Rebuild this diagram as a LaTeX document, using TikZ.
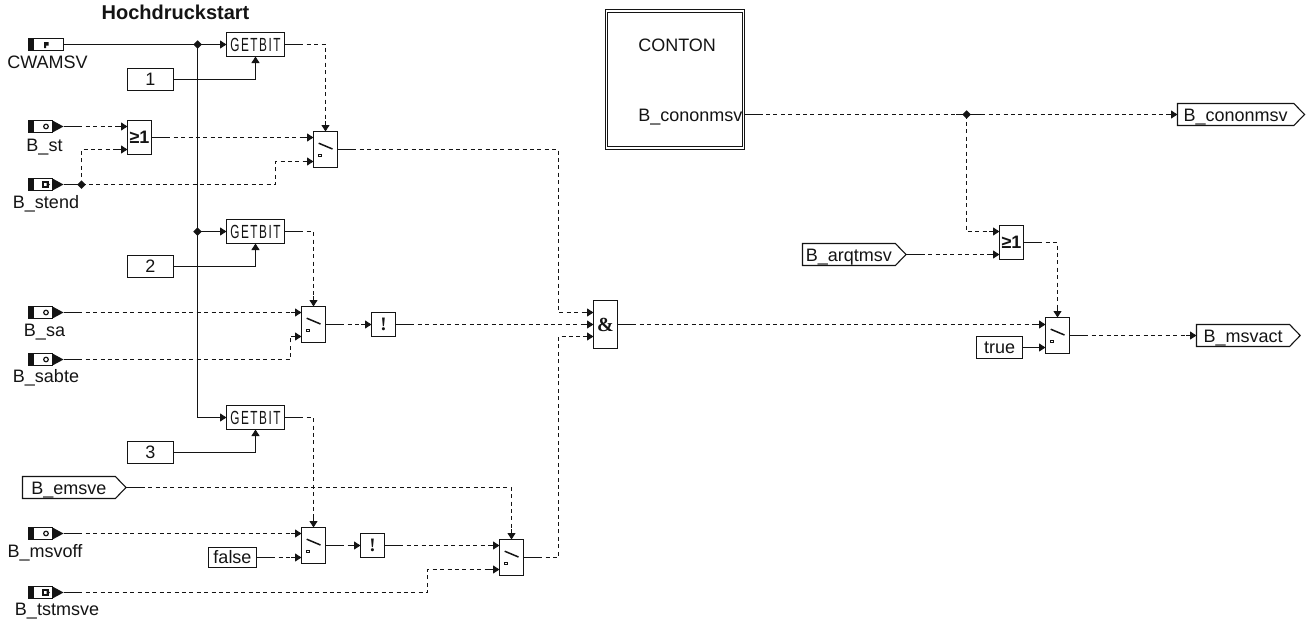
\documentclass[tikz,border=0pt]{standalone}
\usepackage{fontspec}
\setmainfont{Liberation Sans}
\newfontfamily\gbfont[FakeStretch=0.62,LetterSpace=8]{Liberation Sans}
\newfontfamily\serfont{Liberation Serif}
\usetikzlibrary{arrows.meta,shapes.geometric,shapes.symbols,decorations.markings}
\definecolor{ink}{RGB}{20,20,20}
\tikzset{
  every node/.style={inner sep=0pt,outer sep=0pt,text=ink,font=\fontsize{18}{20}\selectfont},
  wire/.style={line width=1.1pt,draw=ink},
  tipped/.style={-{Triangle[length=6.5pt,width=8pt]}},
  stubstart/.style={postaction={decorate,decoration={markings,mark=at position 0 with {\draw[solid,-,line width=1.1pt,draw=ink] (0,0)--(15,0);}}}},
  stubend/.style={postaction={decorate,decoration={markings,mark=at position 0.999 with {\draw[solid,-,line width=1.1pt,draw=ink] (-10,0)--(0,0);}}}},
  sigj/.style={wire,dash pattern=on 4pt off 3.4pt,stubend},
  sig/.style={sigj,stubstart},
  solidw/.style={wire},
  blockbox/.style={draw=ink,line width=1.1pt,fill=white},
  gbbox/.style={blockbox,minimum width=58,minimum height=24,font=\gbfont\fontsize{19}{20}\selectfont},
  constbox/.style={blockbox,minimum width=46,minimum height=22},
  swbox/.style={blockbox,minimum width=24,minimum height=36},
  orbox/.style={blockbox,minimum width=24,minimum height=34,font=\bfseries\fontsize{18}{20}\selectfont},
  notbox/.style={blockbox,minimum width=24,minimum height=24,font=\serfont\bfseries\fontsize{19}{21}\selectfont},
  andbox/.style={blockbox,minimum width=24,minimum height=48,font=\serfont\bfseries\fontsize{20}{22}\selectfont},
  junc/.style={diamond,fill=ink,minimum width=8.5,minimum height=8.5},
  sigbox/.style={signal,signal to=east,draw=ink,line width=1.1pt,fill=white,minimum height=22,signal pointer angle=92,anchor=west,text height=13pt,text depth=0pt},
  pinbox/.style={minimum width=35,minimum height=12},
  pinlabel/.style={anchor=center,text height=13pt,text depth=0pt}
}
\newcommand{\ringglyph}[2]{\draw[line width=1.2pt,draw=ink] (#1,#2) circle (2.3);}
\newcommand{\squareglyph}[2]{\draw[line width=1.2pt,draw=ink,fill=white] (#1-3,#2-2.5) rectangle (#1+2,#2+2.5);\fill[ink] (#1+0.5,#2-3)--(#1+4,#2)--(#1+0.5,#2+3)--cycle;}
\newcommand{\swglyph}[1]{%
  \draw[line width=1.5pt,draw=ink] (#1.center) ++(-6.8,-6.3) -- ++(13.8,5.8);
  \draw[line width=0.8pt,draw=ink] (#1.center) ++(-6.7,4.4) rectangle ++(2.4,2.4);
}
% name, center y, label, label x, label y, glyph command
\newcommand{\inpin}[6]{%
  \node[pinbox] (#1) at (46,#2) {};
  \draw[line width=1.1pt,draw=ink,fill=white] (28.5,#2-6)--(52.5,#2-6)--(52.5,#2+6)--(28.5,#2+6)--cycle;
  \fill[ink] (28.5,#2-6) rectangle (33.5,#2+6);
  \fill[ink] (52.5,#2-6)--(63.5,#2)--(52.5,#2+6)--cycle;
  #6{46}{#2}
  \node[pinlabel] (#1l) at (#4,#5) {#3};
}
\begin{document}
\begin{tikzpicture}[x=1pt,y=-1pt]
\useasboundingbox (0,0) rectangle (1307,621);
\fill[white] (0,0) rectangle (1307,621);
\node (title) at (175.5,12) {\bfseries\fontsize{20}{22}\selectfont Hochdruckstart};

% CWAMSV parameter pin
\node[pinbox] (cw) at (46,44.5) {};
\draw[line width=1.1pt,draw=ink,fill=white] (28.5,38.5) rectangle (63.5,50.5);
\fill[ink] (28.5,38.5) rectangle (33.5,50.5);
\fill[ink] (44,42)--(48.5,42)--(48.5,45.5)--(46,45.5)--(46,48)--(44,48)--cycle;
\node[pinlabel] (cwl) at (47.5,61.5) {CWAMSV};

\inpin{bst}{126.5}{B\_st}{44.5}{145}{\ringglyph}
\inpin{bstend}{184.5}{B\_stend}{46}{201.5}{\squareglyph}
\inpin{bsa}{312.5}{B\_sa}{44.5}{330}{\ringglyph}
\inpin{bsabte}{359.5}{B\_sabte}{46}{376}{\ringglyph}
\inpin{bmsvoff}{533.5}{B\_msvoff}{45}{550.5}{\ringglyph}
\inpin{btst}{592.5}{B\_tstmsve}{57}{609}{\squareglyph}

% blocks
\node[gbbox] (g1) at (255.5,44.5) {GETBIT};
\node[gbbox] (g2) at (255.5,231.5) {GETBIT};
\node[gbbox] (g3) at (255.5,417.5) {GETBIT};
\node[constbox] (c1) at (150.5,79.5) {1};
\node[constbox] (c2) at (150.5,266.5) {2};
\node[constbox] (c3) at (150.5,452.5) {3};
\node[orbox] (or1) at (139.5,137.5) {≥1};
\node[swbox] (sw1) at (325.5,149.5) {};
\node[swbox] (sw2) at (313.5,324.5) {};
\node[swbox] (sw4) at (313.5,545.5) {};
\node[swbox] (sw5) at (511.5,557.5) {};
\node[swbox] (sw6) at (1057.5,335.5) {};
\swglyph{sw1}\swglyph{sw2}\swglyph{sw4}\swglyph{sw5}\swglyph{sw6}
\node[notbox] (not1) at (383.5,324.5) {!};
\node[notbox] (not2) at (372.5,545.5) {!};
\node[andbox] (and) at (605.5,324.5) {\&};
\node[orbox] (or2) at (1011.5,242.5) {≥1};
\node[blockbox,minimum width=48,minimum height=20] (false) at (232.5,557.5) {false};
\node[constbox] (true) at (999.5,347.5) {true};
\node[sigbox,minimum width=103.5] (emsve) at (22.5,487.5) {B\_emsve};
\node[sigbox,minimum width=103.5] (arq) at (802.5,254.5) {B\_arqtmsv};
\node[sigbox,minimum width=127] (ocon) at (1177.5,114.5) {B\_cononmsv};
\node[sigbox,minimum width=103.7] (oact) at (1196.5,335.5) {B\_msvact};
\node[draw=ink,double,double distance=1.3pt,line width=0.9pt,minimum width=137,minimum height=137] (conton) at (675.3,79.5) {};
\node[anchor=west] (contont) at (638.3,45) {CONTON};
\node[anchor=west,text height=13pt,text depth=0pt] (contonp) at (638.3,115) {B\_cononmsv};

% junctions
\node[junc] (j1) at (197.5,44.5) {};
\node[junc] (j2) at (197.5,231.5) {};
\node[junc] (j3) at (81.5,184.5) {};
\node[junc] (j4) at (966.5,114.5) {};

% parameter bus
\draw[wire] (cw.east) -- (80.5,44.5);
\draw[wire,line width=1.8pt] (80.5,44.5) -- (j1.center);
\draw[wire,tipped] (j1.center) -- (g1.west);
\draw[wire] (j1.center) -- (j2.center);
\draw[wire,tipped] (j2.center) -- (g2.west);
\draw[wire,tipped] (j2.center) |- (g3.west);
\draw[solidw,tipped] (c1.east) -| (g1.south);
\draw[solidw,tipped] (c2.east) -| (g2.south);
\draw[solidw,tipped] (c3.east) -| (g3.south);

% signals, upper left
\draw[sig,tipped] (bst.east) -- ([yshift=11pt]or1.west);
\draw[wire] (bstend.east) -- (j3.center);
\draw[sigj,tipped] (j3.center) -- (81.5,149.5) -- ([yshift=-12pt]or1.west);
\draw[sigj,tipped] (j3.center) -- (275.5,184.5) -- (275.5,161.5) -- ([yshift=-12pt]sw1.west);
\draw[sig,tipped] (or1.east) -- ([yshift=12pt]sw1.west);
\draw[sig,tipped] (g1.east) -| (sw1.north);
\draw[sig,tipped] (sw1.east) -- (558.5,149.5) -- (558.5,312.5) -- ([yshift=12pt]and.west);

% signals, middle
\draw[sig,tipped] (g2.east) -| (sw2.north);
\draw[sig,tipped] (bsa.east) -- ([yshift=12pt]sw2.west);
\draw[sig,tipped] (bsabte.east) -- (290.5,359.5) -- (290.5,336.5) -- ([yshift=-12pt]sw2.west);
\draw[sig,tipped] (sw2.east) -- (not1.west);
\draw[sig,tipped] (not1.east) -- (and.west);

% signals, lower
\draw[sig,tipped] (g3.east) -| (sw4.north);
\draw[sig,tipped] (emsve.east) -| (sw5.north);
\draw[sig,tipped] (bmsvoff.east) -- ([yshift=12pt]sw4.west);
\draw[sig,tipped] (false.east) -- ([yshift=-12pt]sw4.west);
\draw[sig,tipped] (sw4.east) -- (not2.west);
\draw[sig,tipped] (not2.east) -- ([yshift=12pt]sw5.west);
\draw[sig,tipped] (btst.east) -- (427.5,592.5) -- (427.5,569.5) -- ([yshift=-12pt]sw5.west);
\draw[sig,tipped] (sw5.east) -- (558.5,557.5) -- (558.5,336.5) -- ([yshift=-12pt]and.west);

% signals, right
\draw[sig] ([yshift=-35pt]conton.east) -- (j4.center);
\draw[sig,tipped] (j4.center) -- (ocon.west);
\draw[sigj,tipped] (j4.center) |- ([yshift=11pt]or2.west);
\draw[sig,tipped] (arq.east) -- ([yshift=-12pt]or2.west);
\draw[sig,tipped] (or2.east) -| (sw6.north);
\draw[sig,tipped] (and.east) -- ([yshift=11pt]sw6.west);
\draw[solidw,tipped] (true.east) -- ([yshift=-12pt]sw6.west);
\draw[sig,tipped] (sw6.east) -- (oact.west);
\end{tikzpicture}
\end{document}
